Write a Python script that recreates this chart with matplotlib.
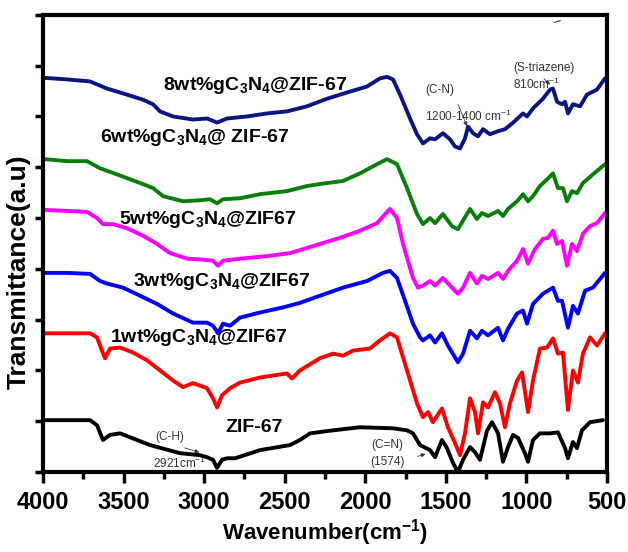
import matplotlib
matplotlib.use("Agg")
import matplotlib.pyplot as plt
from matplotlib.ticker import MultipleLocator

plt.rcParams['font.family'] = ['Liberation Sans', 'DejaVu Sans']
plt.rcParams['mathtext.fontset'] = 'custom'
plt.rcParams['mathtext.rm'] = 'Liberation Sans'
plt.rcParams['mathtext.bf'] = 'Liberation Sans:bold'

# spectra (wavenumber, offset transmittance in tick units)
wn_8 = [3988, 3851, 3708, 3603, 3479, 3379, 3317, 3274, 3193, 3069, 2982, 2920, 2858, 2734,
        2610, 2486, 2362, 2237, 2095, 1989, 1909, 1865, 1828, 1784, 1722, 1679, 1642,
        1598, 1567, 1518, 1474, 1443, 1412, 1381, 1362, 1331, 1300, 1269, 1226, 1176, 1133,
        1089, 1021, 996, 959, 897, 853, 835, 810, 779, 760, 742, 711, 667, 624, 562, 512]
t_8 = [7.76, 7.73, 7.69, 7.55, 7.43, 7.33, 7.24, 7.10, 7.00, 6.94, 6.96, 6.88, 6.96, 7.00,
       7.06, 7.10, 7.20, 7.35, 7.49, 7.59, 7.75, 7.78, 7.73, 7.43, 6.96, 6.65, 6.47,
       6.57, 6.55, 6.67, 6.55, 6.41, 6.37, 6.57, 6.80, 6.67, 6.61, 6.75, 6.65, 6.71, 6.75,
       6.86, 7.06, 7.00, 7.16, 7.35, 7.53, 7.55, 7.29, 7.24, 7.29, 7.06, 7.24, 7.20, 7.43,
       7.53, 7.75]

wn_6 = [3988, 3851, 3727, 3646, 3541, 3398, 3317, 3255, 3131, 3026, 2964, 2920, 2883, 2777,
        2653, 2486, 2362, 2281, 2138, 2033, 1927, 1865, 1803, 1741, 1679, 1642, 1598, 1567,
        1518, 1462, 1425, 1350, 1307, 1276, 1238, 1176, 1145, 1114, 1058, 1021, 990, 959,
        916, 866, 835, 804, 773, 748, 717, 686, 649, 587, 512]
t_6 = [6.16, 6.12, 6.12, 5.98, 5.86, 5.69, 5.59, 5.43, 5.33, 5.35, 5.37, 5.29, 5.37, 5.39,
       5.47, 5.53, 5.63, 5.67, 5.73, 5.88, 6.06, 6.16, 6.06, 5.59, 5.08, 4.88, 5.00, 4.90,
       5.08, 4.84, 4.78, 5.18, 4.98, 5.10, 5.04, 5.14, 5.04, 5.18, 5.33, 5.47, 5.33, 5.43,
       5.63, 5.78, 5.88, 5.59, 5.59, 5.33, 5.53, 5.49, 5.69, 5.86, 6.06]

wn_5 = [3988, 3851, 3727, 3665, 3628, 3566, 3479, 3379, 3293, 3212, 3106, 3007, 2945, 2914,
        2883, 2777, 2610, 2467, 2362, 2281, 2157, 2033, 1927, 1847, 1803, 1766, 1704, 1673,
        1642, 1598, 1567, 1518, 1462, 1425, 1393, 1350, 1307, 1276, 1238, 1176, 1145, 1114,
        1058, 1021, 990, 947, 897, 866, 835, 810, 779, 748, 717, 686, 649, 605, 562, 512]
t_5 = [5.16, 5.14, 5.12, 5.00, 4.88, 4.88, 4.80, 4.65, 4.49, 4.31, 4.20, 4.18, 4.16, 4.06,
       4.16, 4.20, 4.25, 4.31, 4.41, 4.49, 4.61, 4.75, 4.90, 5.18, 5.00, 4.49, 3.82, 3.63,
       3.67, 3.76, 3.67, 3.82, 3.63, 3.51, 3.63, 3.92, 3.71, 3.86, 3.80, 3.92, 3.80, 3.96,
       4.16, 4.39, 4.10, 4.39, 4.59, 4.61, 4.75, 4.49, 4.55, 4.06, 4.49, 4.35, 4.69, 4.84,
       4.90, 5.10]

wn_3 = [3988, 3851, 3708, 3646, 3603, 3504, 3398, 3293, 3193, 3069, 2982, 2945, 2914, 2883,
        2839, 2777, 2653, 2511, 2405, 2281, 2138, 1989, 1890, 1847, 1803, 1753, 1704, 1660,
        1642, 1598, 1567, 1524, 1487, 1425, 1393, 1350, 1307, 1276, 1238, 1176, 1145, 1114,
        1058, 1021, 996, 959, 897, 835, 804, 779, 742, 711, 680, 636, 587, 512]
t_3 = [3.92, 3.92, 3.90, 3.76, 3.71, 3.63, 3.47, 3.31, 3.12, 2.94, 2.94, 2.88, 2.73, 2.92,
       2.88, 3.04, 3.14, 3.24, 3.33, 3.47, 3.63, 3.76, 3.92, 3.96, 3.82, 3.37, 2.92, 2.65,
       2.59, 2.69, 2.55, 2.73, 2.49, 2.16, 2.33, 2.78, 2.63, 2.78, 2.69, 2.84, 2.59, 2.82,
       3.12, 3.18, 2.92, 3.31, 3.51, 3.63, 3.37, 3.37, 2.84, 3.27, 3.12, 3.57, 3.63, 3.92]

wn_1 = [3988, 3851, 3708, 3665, 3634, 3615, 3584, 3522, 3441, 3355, 3274, 3193, 3131, 3069,
        2982, 2945, 2920, 2889, 2839, 2777, 2653, 2486, 2455, 2405, 2281, 2200, 2138, 2076,
        1971, 1909, 1847, 1803, 1741, 1679, 1642, 1610, 1580, 1524, 1487, 1443, 1412, 1381,
        1350, 1319, 1300, 1269, 1238, 1195, 1164, 1133, 1102, 1058, 1027, 990, 959, 916,
        872, 835, 804, 773, 742, 711, 680, 649, 605, 562, 512]
t_1 = [2.73, 2.73, 2.73, 2.65, 2.39, 2.24, 2.43, 2.45, 2.35, 2.20, 2.00, 1.80, 1.67, 1.75,
       1.65, 1.45, 1.27, 1.51, 1.65, 1.76, 1.86, 1.94, 1.84, 2.00, 2.24, 2.33, 2.29, 2.39,
       2.43, 2.59, 2.73, 2.65, 2.00, 1.35, 1.08, 1.18, 0.98, 1.25, 0.88, 0.57, 0.33, 0.76,
       1.45, 1.18, 0.76, 1.37, 1.27, 1.57, 1.35, 0.88, 1.35, 1.80, 1.96, 1.18, 1.80, 2.43,
       2.45, 2.63, 2.33, 2.35, 1.22, 2.00, 1.76, 2.33, 2.65, 2.49, 2.73]

wn_zif = [3988, 3851, 3708, 3665, 3628, 3584, 3522, 3336, 3150, 3026, 2982, 2945, 2920, 2889,
          2858, 2808, 2653, 2467, 2405, 2343, 2200, 2033, 1828, 1741, 1704, 1660, 1598, 1567,
          1524, 1493, 1456, 1425, 1393, 1350, 1319, 1288, 1244, 1213, 1176, 1145, 1114, 1083,
          1052, 1009, 990, 959, 916, 853, 804, 760, 742, 711, 686, 655, 605, 525]
t_zif = [1.02, 1.02, 1.02, 0.92, 0.63, 0.73, 0.76, 0.53, 0.37, 0.33, 0.29, 0.24, 0.08, 0.24,
         0.27, 0.27, 0.43, 0.53, 0.63, 0.76, 0.82, 0.88, 0.86, 0.82, 0.76, 0.53, 0.43, 0.29,
         0.63, 0.47, 0.18, 0.00, 0.24, 0.49, 0.39, 0.24, 0.82, 0.98, 0.76, 0.20, 0.49, 0.73,
         0.67, 0.37, 0.20, 0.63, 0.76, 0.76, 0.78, 0.47, 0.27, 0.59, 0.47, 0.82, 0.98, 1.02]

series = [
    (wn_8, t_8, '#0a1580', r'8wt%gC$\mathbf{_3}$N$\mathbf{_4}$@ZIF-67', (3255, 7.61)),
    (wn_6, t_6, '#0b7d0b', r'6wt%gC$\mathbf{_3}$N$\mathbf{_4}$@ ZIF-67', (3646, 6.59)),
    (wn_5, t_5, '#ff00ff', r'5wt%gC$\mathbf{_3}$N$\mathbf{_4}$@ZIF67', (3528, 4.98)),
    (wn_3, t_3, '#0000ff', r'3wt%gC$\mathbf{_3}$N$\mathbf{_4}$@ZIF67', (3441, 3.76)),
    (wn_1, t_1, '#ff0000', r'1wt%gC$\mathbf{_3}$N$\mathbf{_4}$@ZIF67', (3584, 2.65)),
    (wn_zif, t_zif, '#000000', 'ZIF-67', (2870, 0.88)),
]

fig = plt.figure(figsize=(6.28, 5.52), dpi=100)
ax = fig.add_axes([0.0685, 0.145, 0.898, 0.828])

for wn, t, col, lab, pos in series:
    ax.plot(wn, t, color=col, lw=2.8, solid_joinstyle='round', solid_capstyle='round')
    ax.text(pos[0], pos[1], lab, fontsize=14, fontweight='bold', va='center', ha='left')

# small peak annotations
small = dict(fontsize=8.5, color='#333333', va='center')
arr = dict(arrowstyle='-|>', lw=0.6, color='#333333', mutation_scale=6)
ax.text(3212, 0.69, '(C-H)', ha='center', **small)
ax.text(3150, 0.16, r'2921cm$^{-1}$', ha='center', **small)
ax.annotate('', xy=(3013, 0.37), xytext=(3137, 0.49), arrowprops=arr)
ax.text(1865, 0.53, '(C=N)', ha='center', **small)
ax.text(1865, 0.20, '(1574)', ha='center', **small)
ax.annotate('', xy=(1610, 0.37), xytext=(1691, 0.29), arrowprops=arr)
ax.text(1629, 7.53, '(C-N)', ha='left', **small)
ax.text(1629, 7.0, r'1200-1400 cm$^{-1}$', ha='left', **small)
ax.annotate('', xy=(1362, 6.76), xytext=(1431, 7.29), arrowprops=arr)
ax.text(1083, 7.96, '(S-triazene)', ha='left', **small)
ax.text(1083, 7.63, r'810cm$^{-1}$', ha='left', **small)
ax.annotate('', xy=(841, 7.59), xytext=(903, 7.78), arrowprops=arr)
ax.annotate('', xy=(0.922, 0.989), xytext=(0.902, 0.982), xycoords='axes fraction',
            arrowprops=dict(arrowstyle='-', lw=0.8, color='#333333'))

ax.set_xlim(4000, 500)
ax.set_ylim(0, 9)
ax.xaxis.set_major_locator(MultipleLocator(500))
ax.xaxis.set_minor_locator(MultipleLocator(250))
ax.yaxis.set_major_locator(MultipleLocator(1))
ax.set_yticklabels([])
ax.tick_params(axis='x', which='major', direction='out', length=8, width=2.5,
               labelsize=17, pad=6)
ax.tick_params(axis='x', which='minor', direction='out', length=5, width=2.5)
ax.tick_params(axis='y', which='major', direction='out', length=6, width=2.5)
for lbl in ax.get_xticklabels():
    lbl.set_fontweight('bold')
for sp in ax.spines.values():
    sp.set_linewidth(3)

ax.set_xlabel(r'Wavenumber(cm$\mathbf{^{-1}}$)', fontsize=16, fontweight='bold')
ax.xaxis.set_label_coords(0.5, -0.098)
ax.set_ylabel('Transmittance(a.u)', fontsize=19, fontweight='bold')
ax.yaxis.set_label_coords(-0.022, 0.438)

fig.savefig('out.png', dpi=100)
